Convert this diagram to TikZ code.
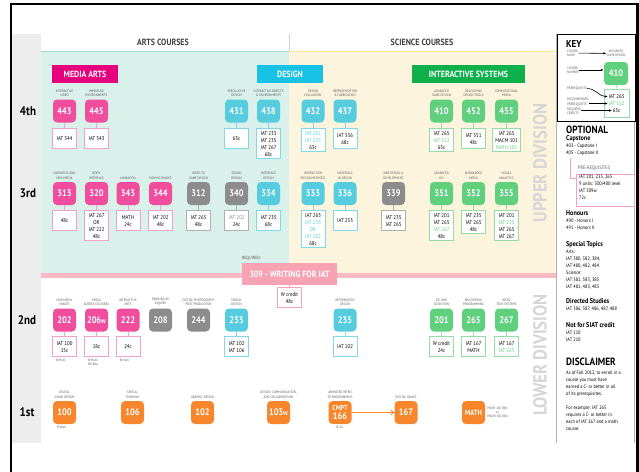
\documentclass[tikz,border=0pt]{standalone}
\usepackage{fontspec}
\setmainfont{PT Sans}[FakeStretch=0.88]
\usetikzlibrary{positioning,arrows.meta}

\definecolor{pinkH}{RGB}{230,0,126}
\definecolor{pinkC}{RGB}{240,78,156}
\definecolor{pinkL}{RGB}{245,160,200}
\definecolor{cyanH}{RGB}{24,194,228}
\definecolor{cyanC}{RGB}{88,204,223}
\definecolor{cyanL}{RGB}{130,216,232}
\definecolor{greenH}{RGB}{14,176,76}
\definecolor{greenC}{RGB}{96,208,126}
\definecolor{greenL}{RGB}{150,220,166}
\definecolor{grayC}{RGB}{140,140,140}
\definecolor{grayL}{RGB}{175,175,175}
\definecolor{orangeC}{RGB}{247,134,44}
\definecolor{mint}{RGB}{218,240,234}
\definecolor{mintline}{RGB}{160,218,202}
\definecolor{cream}{RGB}{253,244,222}
\definecolor{creamline}{RGB}{248,230,150}
\definecolor{band}{RGB}{249,185,197}
\definecolor{writing}{RGB}{247,163,180}
\definecolor{colgray}{RGB}{236,237,236}
\definecolor{divgray}{RGB}{214,214,214}
\definecolor{txtgray}{RGB}{90,90,90}

\begin{document}
\begin{tikzpicture}[x=1pt, y=-1pt,
  course/.style={rounded corners=4pt, minimum width=23pt, minimum height=23pt,
    inner sep=0pt, text=white, align=center, font=\fontsize{9.5}{9}\selectfont\bfseries},
  prebox/.style={fill=white, line width=0.8pt, minimum width=24pt, minimum height=20pt,
    inner sep=2.5pt, align=center, font=\fontsize{5.5}{7}\selectfont},
  lbl/.style={inner sep=0pt, align=center, text=txtgray, font=\fontsize{3.5}{4.2}\selectfont},
  link/.style={line width=0.8pt},
  secbox/.style={minimum height=18pt, text=white, font=\fontsize{9}{9}\selectfont\bfseries},
  yearlbl/.style={font=\fontsize{12.5}{12.5}\selectfont\bfseries},
  note/.style={inner sep=0pt, align=left, text=txtgray, font=\fontsize{3.5}{4.2}\selectfont},
  info/.style={anchor=north west, inner sep=0pt, align=left, font=\fontsize{5}{7}\selectfont},
  keyarrow/.style={-{Latex[length=3pt,width=2.4pt]}, line width=0.6pt},
  division/.style={rotate=90, text=divgray, font=\fontsize{19}{19}\selectfont\bfseries}
]
\useasboundingbox (0,0) rectangle (639,471);
%
% background areas
\fill[colgray] (12,34) rectangle (41,443);
\fill[mint] (41,51) rectangle (289,273);
\fill[cream] (289,51) rectangle (556,273);
\draw[mintline, line width=1pt] (41,51) -- (289,51);
\draw[creamline, line width=1pt] (289,51) -- (556,51);
\draw[gray!35] (289,34) -- (289,51);
\fill[band] (41,273) rectangle (556,278);
\draw[gray!60] (556,34) -- (556,443);
\draw[gray!60] (634.5,121) -- (634.5,443);
\draw[line width=2.2pt] (11,475) -- (11,4) -- (637.5,4) -- (637.5,475);
%
% headings
\node[font=\fontsize{9}{9}\selectfont\bfseries, text=txtgray!70!black] (arts) at (163,42) {ARTS COURSES};
\node[font=\fontsize{9}{9}\selectfont\bfseries, text=txtgray!70!black] (science) at (422,42) {SCIENCE COURSES};
\node[secbox, fill=pinkH, minimum width=66pt] (media) at (85,74) {MEDIA ARTS};
\node[secbox, fill=cyanH, minimum width=66pt] (design) at (290,74) {DESIGN};
\node[secbox, fill=greenH, minimum width=113pt] (systems) at (468.5,74) {INTERACTIVE SYSTEMS};
%
\node[yearlbl] (y4) at (28,111) {4th};
\node[yearlbl] (y3) at (28,193.5) {3rd};
\node[yearlbl] (y2) at (27,320) {2nd};
\node[yearlbl] (y1) at (27,412.5) {1st};
%
\node[division] (upper) at (540,163) {UPPER DIVISION};
\node[division] (lower) at (540,355) {LOWER DIVISION};
%
% 4th year
\foreach \n/\x/\cl/\lab/\pre in {
  443/64.5/pink/{INTERACTIVE\\VIDEO}/{IAT 344},
  445/96.5/pink/{IMMERSIVE\\ENVIRONMENTS}/{IAT 343},
  431/236.5/cyan/{SPECULATIVE\\DESIGN}/{63c},
  438/268.5/cyan/{INTERACTIVE OBJECTS\\\& ENVIRONMENTS}/{IAT 233\\IAT 235\\IAT 267\\68c},
  432/313/cyan/{DESIGN\\EVALUATION}/{\textcolor{cyanC}{IAT 201}\\\textcolor{cyanC}{IAT 235}\\63c},
  437/345/cyan/{REPRESENTATION\\\& FABRICATION}/{IAT 336\\68c},
  410/441.5/green/{ADVANCED\\GAME DESIGN}/{IAT 265\\\textcolor{greenC}{IAT 312}\\63c},
  452/473.5/green/{DEVELOPING\\DESIGN TOOLS}/{IAT 351\\48c},
  455/506.5/green/{COMPUTATIONAL\\MEDIA}/{IAT 265\\MACM 101\\\textcolor{greenC}{MATH 101}}}
{
  \node[course, fill=\cl C] (c\n) at (\x,111) {\n};
  \node[lbl, above=2.5pt of c\n] (l\n) {\lab};
  \node[prebox, draw=\cl L, below=5.5pt of c\n] (p\n) {\pre};
  \draw[link, draw=\cl L] (c\n) -- (p\n);
}
%
% 3rd year
\foreach \n/\x/\cl/\lab/\pre in {
  313/64.5/pink/{NARRATIVE AND\\NEW MEDIA}/{48c},
  320/96.5/pink/{BODY\\INTERFACE}/{IAT 267\\OR\\IAT 222\\48c},
  343/128/pink/{ANIMATION}/{MATH\\24c},
  344/160.5/pink/{MOVING IMAGES}/{IAT 202\\48c},
  312/198.5/gray/{INTRO TO\\GAME DESIGN}/{IAT 265\\48c},
  340/236.5/gray/{SOUND\\DESIGN}/{\textcolor{grayC}{IAT 202}\\24c},
  334/268.5/cyan/{INTERFACE\\DESIGN}/{IAT 235\\68c},
  333/313/cyan/{INTERACTION\\DESIGN METHODS}/{IAT 265\\\textcolor{cyanC}{IAT 233}\\\textcolor{cyanC}{OR}\\\textcolor{cyanC}{IAT 102}\\68c},
  336/345/cyan/{MATERIALS\\IN DESIGN}/{IAT 233},
  339/393.5/gray/{WEB DESIGN \&\\DEVELOPMENT}/{IAT 235\\IAT 265},
  351/441.5/green/{ADVANCED\\HCI}/{IAT 201\\IAT 265\\\textcolor{greenC}{IAT 267}\\48c},
  352/473.5/green/{KNOWLEDGE\\MEDIA}/{IAT 235\\IAT 265\\48c},
  355/506.5/green/{VISUAL\\ANALYTICS}/{IAT 201\\\textcolor{greenC}{IAT 235}\\IAT 265\\IAT 267}}
{
  \node[course, fill=\cl C] (c\n) at (\x,193.5) {\n};
  \node[lbl, above=2.5pt of c\n] (l\n) {\lab};
  \node[prebox, draw=\cl L, below=5pt of c\n] (p\n) {\pre};
  \draw[link, draw=\cl L] (c\n) -- (p\n);
}
%
% required writing course
\node[fill=writing, minimum width=95pt, minimum height=22pt, text=white,
  font=\fontsize{9}{9}\selectfont\bfseries] (c309) at (289.5,274) {309 - WRITING FOR IAT};
\node[note, anchor=south west, font=\fontsize{4.5}{5}\selectfont] (req) at ([yshift=2pt]c309.north west) {REQUIRED:};
\node[prebox, draw=writing, below=2pt of c309] (p309) {W credit\\48c};
\draw[link, writing] (c309) -- (p309);
%
% 2nd year
\foreach \n/\x/\cl/\lab/\pre in {
  202/64.5/pink/{NEW MEDIA\\IMAGES}/{IAT 100\\15c},
  222/128/pink/{INTERACTIVE\\ARTS}/{24c},
  233/236.5/cyan/{SPATIAL\\DESIGN}/{IAT 102\\IAT 106},
  235/345/cyan/{INFORMATION\\DESIGN}/{IAT 102},
  201/441.5/green/{HCI AND\\COGNITION}/{W credit\\24c},
  265/473.5/green/{MULTIMEDIA\\PROGRAMMING}/{IAT 167\\MATH},
  267/506.5/green/{INTRO\\TECH SYSTEMS}/{IAT 167\\\textcolor{greenC}{IAT 265}}}
{
  \node[course, fill=\cl C] (c\n) at (\x,320) {\n};
  \node[lbl, above=2.5pt of c\n] (l\n) {\lab};
  \node[prebox, draw=\cl L, below=4.5pt of c\n] (p\n) {\pre};
  \draw[link, draw=\cl L] (c\n) -- (p\n);
}
\node[course, fill=pinkC] (c206) at (96.5,320) {206{\fontsize{7.5}{7.5}\selectfont w}};
\node[lbl, above=2.5pt of c206] (l206) {MEDIA\\ACROSS CULTURES};
\node[prebox, draw=pinkL, below=4.5pt of c206] (p206) {18c};
\draw[link, pinkL] (c206) -- (p206);
\foreach \n/\x/\lab in {208/160.5/{DRAWING AS\\INQUIRY}, 244/198.5/{DIGITAL PHOTOGRAPHY\\POST PRODUCTION}}
{
  \node[course, fill=grayC] (c\n) at (\x,320) {\n};
  \node[lbl, above=2.5pt of c\n] (l\n) {\lab};
}
\node[note, anchor=north west] (n202) at ([xshift=4pt,yshift=-2pt]p202.south west) {B-Hum};
\node[note, anchor=north west] (n206) at ([xshift=4pt,yshift=-2pt]p206.south west) {B-Hum\\BA-Req};
\node[note, anchor=north west] (n222) at ([xshift=4pt,yshift=-2pt]p222.south west) {B-Hum};
%
% 1st year
\foreach \n/\x/\lab in {100/64.5/{DIGITAL\\IMAGE DESIGN}, 106/132.5/{SPATIAL\\THINKING},
  102/202.5/{GRAPHIC DESIGN}, 167/406/{DIGITAL GAMES}}
{
  \node[course, fill=orangeC] (c\n) at (\x,412.5) {\n};
  \node[lbl, above=2.5pt of c\n] (l\n) {\lab};
}
\node[course, fill=orangeC] (c103) at (278.5,412.5) {103{\fontsize{7.5}{7.5}\selectfont w}};
\node[lbl, above=2.5pt of c103] (l103) {DESIGN, COMMUNICATION,\\AND COLLABORATION};
\node[course, fill=orangeC, font=\fontsize{9.5}{8.5}\selectfont\bfseries] (c166) at (340,412.5) {{\fontsize{7}{7}\selectfont CMPT}\\166};
\node[lbl, above=2.5pt of c166] (l166) {ANIMATED INTRO\\TO PROGRAMMING};
\node[course, fill=orangeC, font=\fontsize{7.5}{7.5}\selectfont\bfseries] (cmath) at (473.5,412.5) {MATH};
\node[note, right=2pt of cmath, align=center] (nmath) {MATH 130 (B6)\\or\\MACM 101 (B6)};
\node[note, anchor=north west] (n100) at ([xshift=4pt,yshift=-2pt]c100.south west) {B-Hum};
\node[note, below=2pt of c166] (n166) {B-Sci};
\draw[orangeC, line width=0.8pt, -{Straight Barb[length=3pt,width=5pt]}] (c166) -- (c167);
%
% key
\draw[line width=0.8pt] (557,34) rectangle (635,121);
\node[anchor=base west, inner sep=0pt, font=\fontsize{10}{10}\selectfont\bfseries] (key) at (566,47) {KEY};
\node[note, anchor=west] (kname) at (567,53) {COURSE\\NAME};
\node[lbl] (kgame) at (616,53.5) {ADVANCED\\GAME DESIGN};
\node[note, anchor=west] (knum) at (567,70) {COURSE\\NUMBER};
\node[course, fill=greenC, minimum width=24pt] (k410) at (616,73.5) {410};
\node[prebox, draw=greenL, minimum width=25pt, minimum height=28pt] (kpre) at (616.5,103) {};
\draw[link, greenL] (k410) -- (kpre);
\node[inner sep=0.5pt, font=\fontsize{5.5}{5.5}\selectfont] (k265) at (616.5,96.5) {IAT 265};
\node[inner sep=0.5pt, font=\fontsize{5.5}{5.5}\selectfont, text=greenC] (k312) at (616.5,103.5) {IAT 312};
\node[inner sep=0.5pt, font=\fontsize{5.5}{5.5}\selectfont] (k63) at (616.5,110.5) {63c};
\node[note, anchor=west] (kprq) at (567,88.5) {PREREQUISITE};
\node[note, anchor=west] (krec) at (567,102) {RECOMMENDED\\PREREQUISITE};
\node[note, anchor=west] (kcred) at (567,111.5) {REQUIRED\\CREDITS};
\draw[keyarrow] (kname) -- (kgame);
\draw[keyarrow] (knum.east) -- (knum.east -| k410.west);
\draw[keyarrow] (kprq.east) to[out=0, in=180] (k265.west);
\draw[keyarrow] (krec.east |- k312) -- (k312.west);
\draw[keyarrow] (kcred.east |- k63) -- (k63.west);
%
% optional courses
\node[info, font=\fontsize{10.5}{10.5}\selectfont\bfseries] (optional) at (566,126) {OPTIONAL};
\node[info] (capstone) at (566,135) {{\fontsize{7}{7}\selectfont\bfseries Capstone}\\403 - Capstone I\\405 - Capstone II};
\draw[pinkL, line width=0.8pt] (570,158) -- (570,178) -- (576,178);
\node[note, anchor=west, font=\fontsize{5}{5}\selectfont] (capreq) at (578,168.5) {PRE-REQUISITES};
\draw[pinkL, line width=0.8pt] (576,174) rectangle (634,206);
\node[info] (capbox) at (579,175) {IAT 201, 235, 265\\9 units: 300/400 level\\IAT 309w\\72c};
\node[info] (honours) at (566,210) {{\fontsize{7}{7}\selectfont\bfseries Honours}\\490 - Honors I\\491 - Honors II};
\node[info] (special) at (566,241) {{\fontsize{7}{7}\selectfont\bfseries Special Topics}\\Arts:\\IAT 380, 382, 384,\\IAT 480, 482, 484\\Science:\\IAT 381, 383, 385\\IAT 481, 483, 485};
\node[info] (directed) at (566,298) {{\fontsize{7}{7}\selectfont\bfseries Directed Studies}\\IAT 386, 387, 486, 487, 488};
\node[info] (notsiat) at (566,322) {{\fontsize{7}{7}\selectfont\bfseries Not for SIAT credit}\\IAT 110\\IAT 210};
\node[info, font=\fontsize{10.5}{10.5}\selectfont\bfseries] (disclaimer) at (566,358) {DISCLAIMER};
\node[info] (distext) at (566,371) {As of Fall 2012, to enroll in a\\course you must have\\earned a C- or better in all\\of its prerequisites.\\[7pt]For example: IAT 265\\requires a C- or better in\\each of IAT 167 and a math\\course.};
%
\end{tikzpicture}
\end{document}
